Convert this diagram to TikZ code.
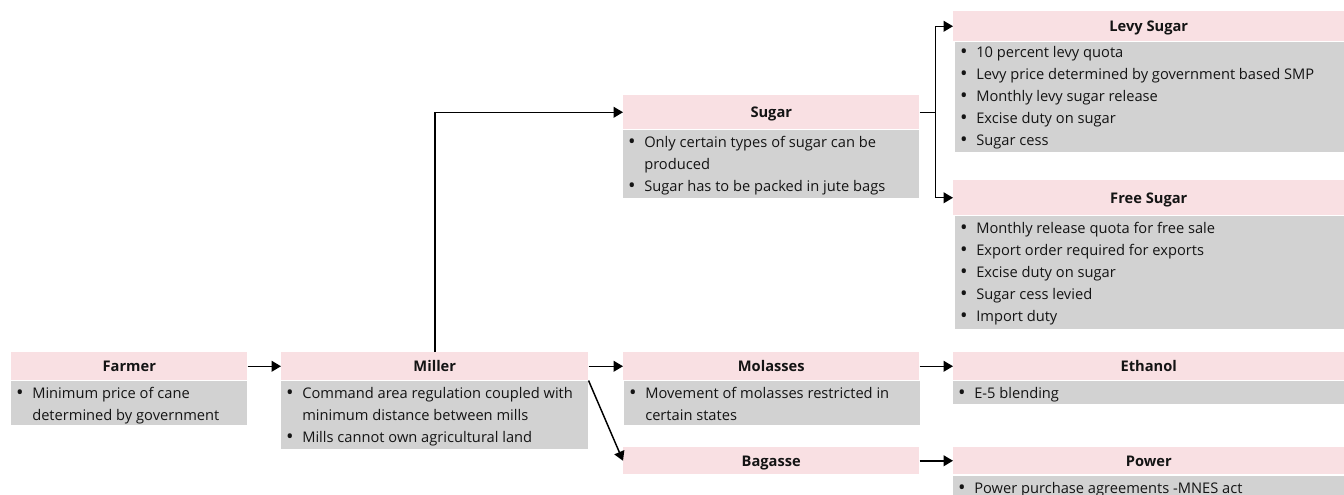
\documentclass[tikz,border=0pt]{standalone}
\usepackage{fontspec}
\setmainfont{Open Sans}
\usetikzlibrary{arrows.meta}
\definecolor{hpink}{RGB}{249,224,227}
\definecolor{bgray}{RGB}{210,210,210}
\definecolor{tdark}{RGB}{20,20,20}
\newcommand\bl{\llap{{\fontsize{15pt}{15pt}\selectfont\raisebox{-1pt}{\textbullet}}\hspace{6.5pt}}}
\newcommand\sr{\rule[-4.5pt]{0pt}{16.5pt}}
\newcommand\mkhead[6]{\node[hdr,anchor=north west,minimum width={(#4-#2)*0.75pt},minimum height={(#5-#3)*0.75pt}] (#1) at (#2,#3) {#6};}
\newcommand\mkbody[5]{\node[bodybox,anchor=north west,minimum width={(#4-#2)*0.75pt},minimum height={(#5-#3)*0.75pt}] (#1) at (#2,#3) {};}
\tikzset{
  hdr/.style={fill=hpink, inner sep=0pt, text=tdark, font=\fontsize{11pt}{13pt}\selectfont\bfseries, text height=8.5pt, text depth=0pt},
  bodybox/.style={fill=bgray, inner sep=0pt},
  txt/.style={anchor=north west, inner sep=0pt, align=left, text=tdark, font=\fontsize{11pt}{16.5pt}\selectfont},
  arr/.style={line width=1.1pt, -{Triangle[length=7pt,width=8pt]}}
}
\begin{document}
\begin{tikzpicture}[x=0.75pt,y=-0.75pt]
\clip (0,0) rectangle (1344,495);
\fill[white] (0,0) rectangle (1344,495);
% Farmer
\mkhead{farmerH}{11}{352}{247}{380}{Farmer}
\mkbody{farmerB}{11}{381}{247}{425}
\node[txt] (farmerT) at (32,382) {\sr\bl Minimum price of cane\\\sr determined by government};
% Miller
\mkhead{millerH}{281}{352}{588}{380}{Miller}
\mkbody{millerB}{281}{381}{588}{449}
\node[txt] (millerT) at (302,382) {\sr\bl Command area regulation coupled with\\\sr minimum distance between mills\\\sr\bl Mills cannot own agricultural land};
% Sugar
\mkhead{sugarH}{623}{95}{919}{129}{Sugar}
\mkbody{sugarB}{623}{130}{919}{198}
\node[txt] (sugarT) at (644,131) {\sr\bl Only certain types of sugar can be\\\sr produced\\\sr\bl Sugar has to be packed in jute bags};
% Levy Sugar
\mkhead{levyH}{953}{11}{1344}{41}{Levy Sugar}
\mkbody{levyB}{955}{42}{1344}{152}
\node[txt] (levyT) at (976,41) {\sr\bl 10 percent levy quota\\\sr\bl Levy price determined by government based SMP\\\sr\bl Monthly levy sugar release\\\sr\bl Excise duty on sugar\\\sr\bl Sugar cess};
% Free Sugar
\mkhead{freeH}{953}{180}{1344}{215}{Free Sugar}
\mkbody{freeB}{955}{216}{1344}{329}
\node[txt] (freeT) at (976,217) {\sr\bl Monthly release quota for free sale\\\sr\bl Export order required for exports\\\sr\bl Excise duty on sugar\\\sr\bl Sugar cess levied\\\sr\bl Import duty};
% Molasses
\mkhead{molH}{623}{352}{919}{380}{Molasses}
\mkbody{molB}{624}{381}{920}{425}
\node[txt] (molT) at (645,382) {\sr\bl Movement of molasses restricted in\\\sr certain states};
% Ethanol
\mkhead{ethH}{953}{352}{1344}{380}{Ethanol}
\mkbody{ethB}{953}{381}{1344}{404}
\node[txt] (ethT) at (974,382) {\sr\bl E-5 blending};
% Bagasse
\mkhead{bagH}{623}{447}{919}{474}{Bagasse}
% Power
\mkhead{powH}{953}{447}{1344}{474}{Power}
\mkbody{powB}{953}{476}{1344}{510}
\node[txt] (powT) at (974,477) {\sr\bl Power purchase agreements -MNES act};
% connectors
\draw[arr] (farmerH.east) -- (millerH.west);
\draw[arr] (millerH.east) -- (molH.west);
\draw[arr] (millerH.north) |- (sugarH.west);
\draw[arr] (millerH.south east) -- (bagH.west);
\draw[line width=1.1pt] (sugarH.east) -- ++(16,0) coordinate (sj);
\draw[arr] (sj) |- (levyH.west);
\draw[arr] (sj) |- (freeH.west);
\draw[arr] (molH.east) -- (ethH.west);
\draw[arr] (bagH.east) -- (powH.west);
\end{tikzpicture}
\end{document}
